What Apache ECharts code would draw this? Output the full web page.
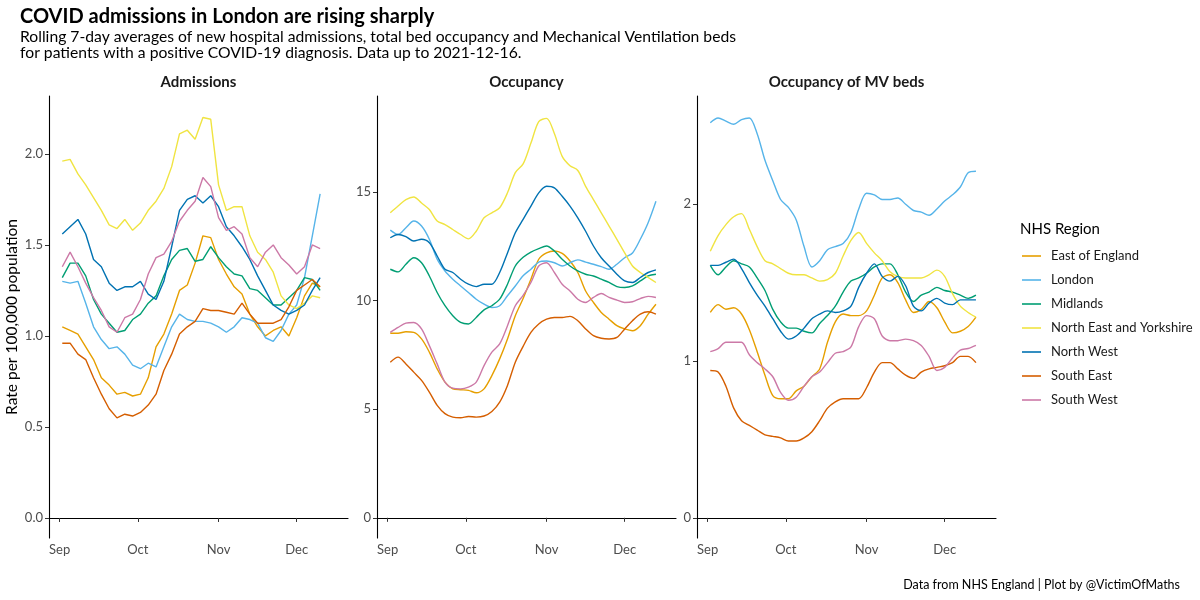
<!DOCTYPE html>
<html>
<head>
<meta charset="utf-8">
<title>COVID admissions in London are rising sharply</title>
<script src="https://cdn.jsdelivr.net/npm/echarts@6/dist/echarts.min.js"></script>
<style>
  html, body { margin: 0; padding: 0; background: #fff; }
  #chart { width: 1200px; height: 600px; }
</style>
</head>
<body>
<div id="chart"></div>
<script>
// sample dates (every third day), admissions stop at 2021-12-10
var dates = ['2021-09-02', '2021-09-05', '2021-09-08', '2021-09-11', '2021-09-14', '2021-09-17', '2021-09-20',
  '2021-09-23', '2021-09-26', '2021-09-29', '2021-10-02', '2021-10-05', '2021-10-08', '2021-10-11',
  '2021-10-14', '2021-10-17', '2021-10-20', '2021-10-23', '2021-10-26', '2021-10-29', '2021-11-01',
  '2021-11-04', '2021-11-07', '2021-11-10', '2021-11-13', '2021-11-16', '2021-11-19', '2021-11-22',
  '2021-11-25', '2021-11-28', '2021-12-01', '2021-12-04', '2021-12-07', '2021-12-10', '2021-12-13'];

var regions = ['East of England', 'London', 'Midlands', 'North East and Yorkshire', 'North West', 'South East', 'South West'];
var regionColors = ['#E69F00', '#56B4E9', '#009E73', '#F0E442', '#0072B2', '#D55E00', '#CC79A7'];

var monthTicks = ['2021-09-01', '2021-10-01', '2021-11-01', '2021-12-01'];
var monthLabels = ['Sep', 'Oct', 'Nov', 'Dec'];

// Admissions, rate per 100,000
var admEast = [1.05, 1.03, 1.01, 0.94, 0.87, 0.77, 0.73, 0.68, 0.69, 0.67, 0.68, 0.77, 0.94, 1.01, 1.12, 1.25, 1.28, 1.40, 1.55, 1.54, 1.42, 1.34, 1.27, 1.23, 1.12, 1.05, 1.00, 1.03, 1.05, 1.00, 1.10, 1.22, 1.29, 1.27];
var admLondon = [1.30, 1.29, 1.30, 1.18, 1.05, 0.98, 0.93, 0.94, 0.90, 0.84, 0.82, 0.85, 0.83, 0.94, 1.05, 1.12, 1.09, 1.08, 1.08, 1.07, 1.05, 1.02, 1.05, 1.10, 1.09, 1.07, 0.99, 0.97, 1.03, 1.12, 1.17, 1.32, 1.55, 1.78];
var admMidlands = [1.32, 1.40, 1.40, 1.33, 1.20, 1.12, 1.07, 1.02, 1.03, 1.09, 1.12, 1.18, 1.22, 1.33, 1.42, 1.47, 1.48, 1.41, 1.42, 1.49, 1.43, 1.38, 1.34, 1.33, 1.26, 1.25, 1.21, 1.17, 1.17, 1.21, 1.25, 1.32, 1.31, 1.25];
var admNorthEast = [1.96, 1.97, 1.89, 1.83, 1.76, 1.69, 1.61, 1.59, 1.64, 1.58, 1.62, 1.69, 1.74, 1.81, 1.93, 2.11, 2.13, 2.08, 2.20, 2.19, 1.83, 1.69, 1.71, 1.71, 1.55, 1.46, 1.42, 1.35, 1.22, 1.17, 1.15, 1.18, 1.22, 1.21];
var admNorthWest = [1.56, 1.60, 1.64, 1.56, 1.42, 1.38, 1.29, 1.25, 1.27, 1.27, 1.30, 1.23, 1.20, 1.30, 1.49, 1.69, 1.75, 1.77, 1.73, 1.77, 1.71, 1.60, 1.55, 1.49, 1.42, 1.33, 1.25, 1.17, 1.14, 1.12, 1.14, 1.17, 1.25, 1.32];
var admSouthEast = [0.96, 0.96, 0.90, 0.87, 0.77, 0.68, 0.60, 0.55, 0.57, 0.56, 0.58, 0.62, 0.68, 0.81, 0.90, 1.01, 1.05, 1.08, 1.15, 1.14, 1.14, 1.13, 1.12, 1.18, 1.12, 1.07, 1.07, 1.07, 1.09, 1.16, 1.25, 1.28, 1.31, 1.27];
var admSouthWest = [1.38, 1.46, 1.38, 1.29, 1.21, 1.14, 1.05, 1.02, 1.10, 1.12, 1.20, 1.34, 1.43, 1.45, 1.52, 1.63, 1.69, 1.74, 1.87, 1.82, 1.65, 1.58, 1.60, 1.56, 1.43, 1.38, 1.46, 1.50, 1.43, 1.39, 1.34, 1.38, 1.50, 1.48];

// Bed occupancy, rate per 100,000
var occEast = [8.50, 8.50, 8.57, 8.54, 8.24, 7.63, 6.86, 6.25, 5.94, 5.90, 5.87, 5.76, 5.94, 6.55, 7.32, 8.24, 9.31, 10.10, 10.99, 11.91, 12.20, 12.29, 12.18, 11.83, 11.30, 10.45, 9.92, 9.46, 9.15, 8.85, 8.70, 8.62, 8.85, 9.38, 9.84];
var occLondon = [13.25, 13.05, 13.36, 13.67, 13.44, 12.83, 11.91, 11.37, 10.99, 10.68, 10.38, 10.07, 9.84, 9.69, 9.77, 10.23, 10.68, 11.15, 11.45, 11.78, 11.83, 11.75, 11.60, 11.75, 11.88, 11.78, 11.68, 11.57, 11.45, 11.68, 11.98, 12.20, 12.83, 13.59, 14.58];
var occMidlands = [11.45, 11.33, 11.68, 11.98, 11.75, 11.14, 10.38, 9.77, 9.31, 9.00, 8.93, 9.23, 9.58, 9.77, 10.07, 10.76, 11.60, 12.00, 12.24, 12.40, 12.52, 12.29, 11.91, 11.60, 11.37, 11.22, 11.14, 10.99, 10.84, 10.65, 10.61, 10.68, 10.91, 11.14, 11.22];
var occNorthEast = [14.05, 14.36, 14.66, 14.78, 14.50, 14.20, 13.67, 13.51, 13.28, 13.05, 12.85, 13.20, 13.82, 14.05, 14.28, 14.97, 15.90, 16.30, 17.26, 18.25, 18.40, 17.70, 16.65, 16.22, 16.00, 15.27, 14.66, 14.05, 13.44, 12.83, 12.20, 11.60, 11.30, 11.07, 10.84];
var occNorthWest = [12.90, 13.05, 12.95, 12.75, 12.83, 12.67, 12.06, 11.45, 11.30, 10.99, 10.76, 10.65, 10.76, 10.76, 11.30, 12.20, 13.13, 13.75, 14.36, 14.97, 15.27, 15.20, 14.81, 14.36, 13.82, 13.20, 12.52, 11.98, 11.60, 11.22, 10.91, 10.84, 11.07, 11.30, 11.42];
var occSouthEast = [7.17, 7.40, 7.09, 6.71, 6.33, 5.79, 5.18, 4.80, 4.64, 4.61, 4.67, 4.64, 4.69, 4.90, 5.33, 6.10, 7.17, 7.90, 8.54, 8.93, 9.15, 9.23, 9.23, 9.28, 9.08, 8.70, 8.39, 8.27, 8.24, 8.31, 8.70, 9.08, 9.38, 9.49, 9.38];
var occSouthWest = [8.54, 8.77, 8.97, 9.00, 8.70, 7.93, 7.09, 6.25, 5.97, 5.94, 6.02, 6.25, 7.01, 7.63, 8.01, 8.85, 9.77, 10.25, 10.84, 11.60, 11.75, 11.30, 10.76, 10.45, 10.07, 9.92, 10.15, 10.33, 10.15, 10.03, 9.92, 9.95, 10.10, 10.20, 10.15];

// Mechanical ventilation beds, rate per 100,000
var mvEast = [1.31, 1.36, 1.33, 1.34, 1.30, 1.20, 1.06, 0.91, 0.78, 0.76, 0.76, 0.81, 0.84, 0.90, 0.95, 1.12, 1.25, 1.30, 1.29, 1.29, 1.32, 1.42, 1.53, 1.55, 1.50, 1.39, 1.31, 1.33, 1.38, 1.34, 1.25, 1.18, 1.19, 1.22, 1.28];
var mvLondon = [2.52, 2.55, 2.53, 2.51, 2.54, 2.55, 2.45, 2.28, 2.15, 2.03, 1.98, 1.90, 1.73, 1.60, 1.64, 1.71, 1.73, 1.75, 1.82, 1.97, 2.07, 2.06, 2.03, 2.03, 2.04, 2.00, 1.96, 1.95, 1.93, 1.97, 2.02, 2.06, 2.11, 2.20, 2.21];
var mvMidlands = [1.61, 1.55, 1.60, 1.64, 1.62, 1.60, 1.53, 1.45, 1.33, 1.25, 1.21, 1.21, 1.19, 1.18, 1.24, 1.29, 1.35, 1.44, 1.51, 1.53, 1.56, 1.60, 1.62, 1.62, 1.55, 1.44, 1.38, 1.42, 1.44, 1.47, 1.45, 1.44, 1.42, 1.40, 1.42];
var mvNorthEast = [1.70, 1.80, 1.87, 1.92, 1.94, 1.84, 1.73, 1.64, 1.62, 1.59, 1.56, 1.55, 1.55, 1.53, 1.51, 1.52, 1.56, 1.67, 1.77, 1.82, 1.75, 1.69, 1.64, 1.57, 1.54, 1.53, 1.53, 1.53, 1.55, 1.58, 1.54, 1.43, 1.35, 1.31, 1.28];
var mvNorthWest = [1.61, 1.61, 1.63, 1.65, 1.59, 1.50, 1.42, 1.35, 1.27, 1.19, 1.14, 1.16, 1.21, 1.27, 1.30, 1.32, 1.31, 1.32, 1.35, 1.47, 1.56, 1.62, 1.54, 1.51, 1.54, 1.48, 1.35, 1.32, 1.37, 1.40, 1.37, 1.36, 1.39, 1.39, 1.39];
var mvSouthEast = [0.94, 0.93, 0.84, 0.70, 0.62, 0.59, 0.56, 0.53, 0.52, 0.51, 0.49, 0.49, 0.51, 0.55, 0.62, 0.70, 0.74, 0.76, 0.76, 0.76, 0.83, 0.93, 0.99, 0.99, 0.95, 0.91, 0.89, 0.93, 0.95, 0.96, 0.97, 0.99, 1.03, 1.03, 0.99];
var mvSouthWest = [1.06, 1.08, 1.12, 1.12, 1.12, 1.04, 0.99, 0.95, 0.90, 0.80, 0.75, 0.77, 0.84, 0.90, 0.93, 0.99, 1.05, 1.06, 1.09, 1.22, 1.29, 1.27, 1.16, 1.13, 1.13, 1.14, 1.13, 1.10, 1.03, 0.94, 0.96, 1.02, 1.07, 1.08, 1.10];

var admTicks = [0, 0.5, 1, 1.5, 2];
var occTicks = [0, 5, 10, 15];
var mvTicks = [0, 1, 2];

function toTime(s) {
  var p = s.split('-');
  return new Date(+p[0], +p[1] - 1, +p[2]).getTime();
}

var DAY = 86400000;
var dateTimes = dates.map(toTime);
var monthTimes = monthTicks.map(toTime);
var xMin = monthTimes[0] - 4.1 * DAY;
var xMax = monthTimes[0] + 110.7 * DAY;

var font = 'Lato, "Open Sans", sans-serif';

var panels = [
  { title: 'Admissions', values: [admEast, admLondon, admMidlands, admNorthEast, admNorthWest, admSouthEast, admSouthWest],
    min: -0.11, max: 2.318, ticks: admTicks, digits: 1, smooth: false },
  { title: 'Occupancy', values: [occEast, occLondon, occMidlands, occNorthEast, occNorthWest, occSouthEast, occSouthWest],
    min: -0.93, max: 19.43, ticks: occTicks, digits: 0, smooth: 0.3 },
  { title: 'Occupancy of MV beds', values: [mvEast, mvLondon, mvMidlands, mvNorthEast, mvNorthWest, mvSouthEast, mvSouthWest],
    min: -0.128, max: 2.69, ticks: mvTicks, digits: 0, smooth: 0.3 }
];

var gridLefts = [49, 377, 697];
var gridWidth = 299;
var gridTop = 96;
var gridHeight = 442;

var grids = [], xAxes = [], yAxes = [], series = [];
var titles = [
  { text: 'COVID admissions in London are rising sharply', left: 20, top: 7, padding: 0,
    textStyle: { fontFamily: font, fontSize: 20, fontWeight: 'bold', color: '#000' } },
  { text: 'Rolling 7-day averages of new hospital admissions, total bed occupancy and Mechanical Ventilation beds\nfor patients with a positive COVID-19 diagnosis. Data up to 2021-12-16.',
    left: 20, top: 29, padding: 0,
    textStyle: { fontFamily: font, fontSize: 15.7, fontWeight: 'normal', color: '#000', lineHeight: 16 } },
  { text: 'NHS Region', left: 1020, top: 222, padding: 0,
    textStyle: { fontFamily: font, fontSize: 15, fontWeight: 'normal', color: '#000' } },
  { text: 'Data from NHS England | Plot by @VictimOfMaths', right: 20, top: 578, padding: 0,
    textStyle: { fontFamily: font, fontSize: 12.5, fontWeight: 'normal', color: '#000' } }
];

// month labels on a plain value axis holding timestamps
function monthLabel(v) {
  var k = monthTimes.indexOf(Math.round(+v));
  return k >= 0 ? monthLabels[k] : '';
}

panels.forEach(function(p, i) {
  grids.push({ left: gridLefts[i], top: gridTop, width: gridWidth, height: gridHeight });

  titles.push({ text: p.title, left: gridLefts[i] + gridWidth / 2, top: 75, textAlign: 'center', padding: 0,
    textStyle: { fontFamily: font, fontSize: 15, fontWeight: 'bold', color: '#1a1a1a' } });

  xAxes.push({
    type: 'value', gridIndex: i, min: xMin, max: xMax,
    axisLine: { show: true, lineStyle: { color: '#000', width: 1.1 } },
    axisTick: { show: true, length: 4, customValues: monthTimes, lineStyle: { color: '#333', width: 1 } },
    axisLabel: {
      customValues: monthTimes, margin: 5, color: '#4D4D4D', fontFamily: font, fontSize: 13,
      formatter: monthLabel
    },
    splitLine: { show: false }
  });

  yAxes.push({
    type: 'value', gridIndex: i, min: p.min, max: p.max,
    name: i === 0 ? 'Rate per 100,000 population' : '',
    nameLocation: 'middle', nameGap: 29, nameRotate: 90,
    nameTextStyle: { fontFamily: font, fontSize: 15.5, color: '#000' },
    axisLine: { show: true, lineStyle: { color: '#000', width: 1.1 } },
    axisTick: { show: true, length: 4, customValues: p.ticks, lineStyle: { color: '#333', width: 1 } },
    axisLabel: {
      customValues: p.ticks, margin: 6, color: '#4D4D4D', fontFamily: font, fontSize: 13,
      formatter: (function(d) { return function(v) { return (+v).toFixed(d); }; })(p.digits)
    },
    splitLine: { show: false }
  });

  p.values.forEach(function(vals, r) {
    series.push({
      name: regions[r], type: 'line', xAxisIndex: i, yAxisIndex: i,
      data: vals.map(function(v, k) { return [dateTimes[k], v]; }),
      showSymbol: false, symbol: 'none', smooth: p.smooth,
      lineStyle: { width: 1.4, color: regionColors[r] },
      itemStyle: { color: regionColors[r] },
      emphasis: { disabled: true }
    });
  });
});

var chart = echarts.init(document.getElementById('chart'));
chart.setOption({
  animation: false,
  backgroundColor: '#fff',
  title: titles,
  grid: grids,
  xAxis: xAxes,
  yAxis: yAxes,
  legend: {
    data: regions, orient: 'vertical', left: 1022, top: 249, padding: 0,
    icon: 'rect', itemWidth: 19, itemHeight: 1.6, itemGap: 10,
    selectedMode: false,
    textStyle: { fontFamily: font, fontSize: 13, color: '#1a1a1a', lineHeight: 14, padding: [0, 0, 0, 5] }
  },
  series: series
});
</script>
</body>
</html>
